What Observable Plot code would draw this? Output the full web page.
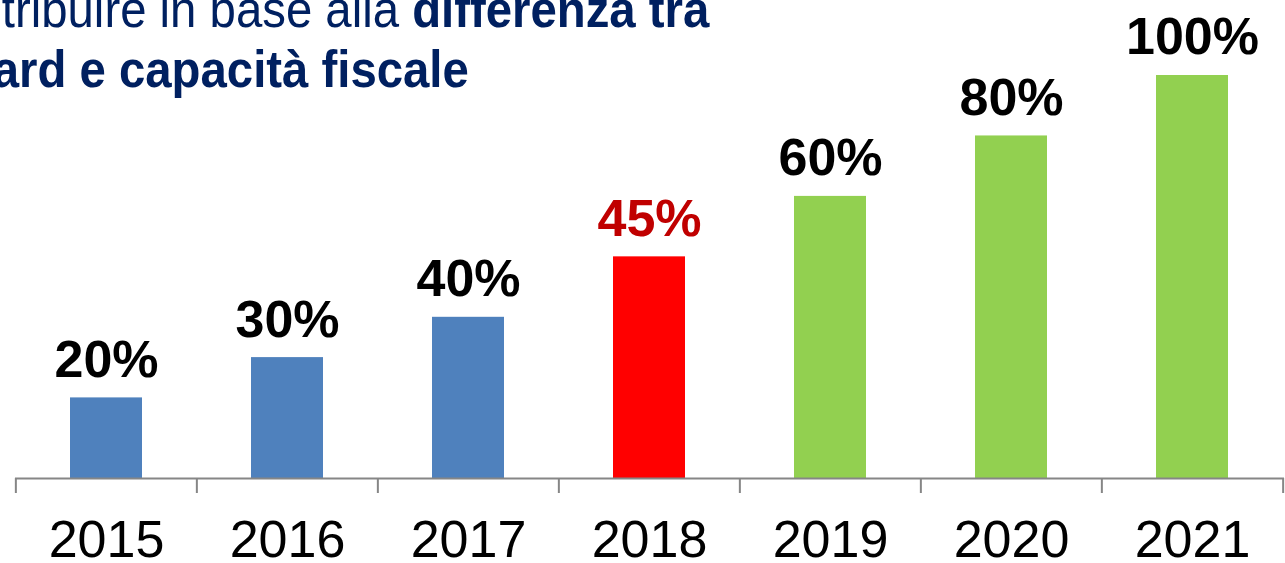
<!DOCTYPE html>
<html>
<head>
<meta charset="utf-8">
<script src="https://cdn.jsdelivr.net/npm/d3@7"></script>
<script src="https://cdn.jsdelivr.net/npm/@observablehq/plot@0.6"></script>
<style>
  html, body { margin: 0; padding: 0; background: #ffffff; overflow: hidden; }
  #wrap { position: relative; width: 1285px; height: 563px; overflow: hidden; }
  #chart { position: absolute; left: 0; top: 0; }
  #title {
    position: absolute; left: 0; top: -21px;
    font-family: "Liberation Sans", Arial, sans-serif;
    font-size: 52px; line-height: 60px; color: #002060;
    white-space: nowrap; transform-origin: 0 0; transform: scaleX(0.91);
  }
  #title .l1 { margin-left: 2px; }
  #title .l2 { margin-left: -8px; font-weight: bold; }
</style>
</head>
<body>
<div id="wrap">
  <div id="chart"></div>
  <div id="title">
    <div class="l1">tribuire in base alla <b>differenza tra</b></div>
    <div class="l2">ard e capacità fiscale</div>
  </div>
</div>
<script>
// ---- data ----
const years = ["2015", "2016", "2017", "2018", "2019", "2020", "2021"];
const barValues = [20, 30, 40, 55, 70, 85, 100];
const valueLabels = ["20%", "30%", "40%", "45%", "60%", "80%", "100%"];
const phases = ["past", "past", "past", "current", "future", "future", "future"];

const data = years.map((year, i) => ({
  year, value: barValues[i], label: valueLabels[i], phase: phases[i]
}));

const W = 1285, H = 563;
const mL = 15, mR = 1, mT = 75, mB = 85;
const step = (W - mL - mR) / years.length;
const font = "'Liberation Sans', Arial, sans-serif";
const axisGrey = "#868686";

const chart = Plot.plot({
  width: W,
  height: H,
  marginLeft: mL,
  marginRight: mR,
  marginTop: mT,
  marginBottom: mB,
  style: { fontFamily: font, background: "#ffffff", overflow: "visible" },
  x: { type: "band", domain: years, paddingInner: 0.6, paddingOuter: 0.3, axis: null },
  y: { domain: [0, 100], axis: null },
  color: {
    domain: ["past", "current", "future"],
    range: ["#4F81BD", "#FF0000", "#92D050"]
  },
  marks: [
    Plot.barY(data, { x: "year", y: "value", fill: "phase" }),
    Plot.ruleY([0], { stroke: axisGrey, strokeWidth: 2 }),
    Plot.ruleX(years, { x: d => d, y1: 0, y2: 0, insetBottom: -15, dx: -step / 2, stroke: axisGrey, strokeWidth: 2 }),
    Plot.ruleX([years[years.length - 1]], { x: d => d, y1: 0, y2: 0, insetBottom: -15, dx: step / 2, stroke: axisGrey, strokeWidth: 2 }),
    Plot.text(data.filter(d => d.phase !== "current"), {
      x: "year", y: "value", text: "label", lineAnchor: "top", dy: -58,
      fontSize: 52, fontWeight: "bold", fill: "#000000"
    }),
    Plot.text(data.filter(d => d.phase === "current"), {
      x: "year", y: "value", text: "label", lineAnchor: "top", dy: -58,
      fontSize: 52, fontWeight: "bold", fill: "#C00000"
    }),
    Plot.text(years, {
      x: d => d, frameAnchor: "bottom", lineAnchor: "top", dy: 42,
      fontSize: 52, fill: "#000000"
    })
  ]
});

document.getElementById("chart").appendChild(chart);
</script>
</body>
</html>
